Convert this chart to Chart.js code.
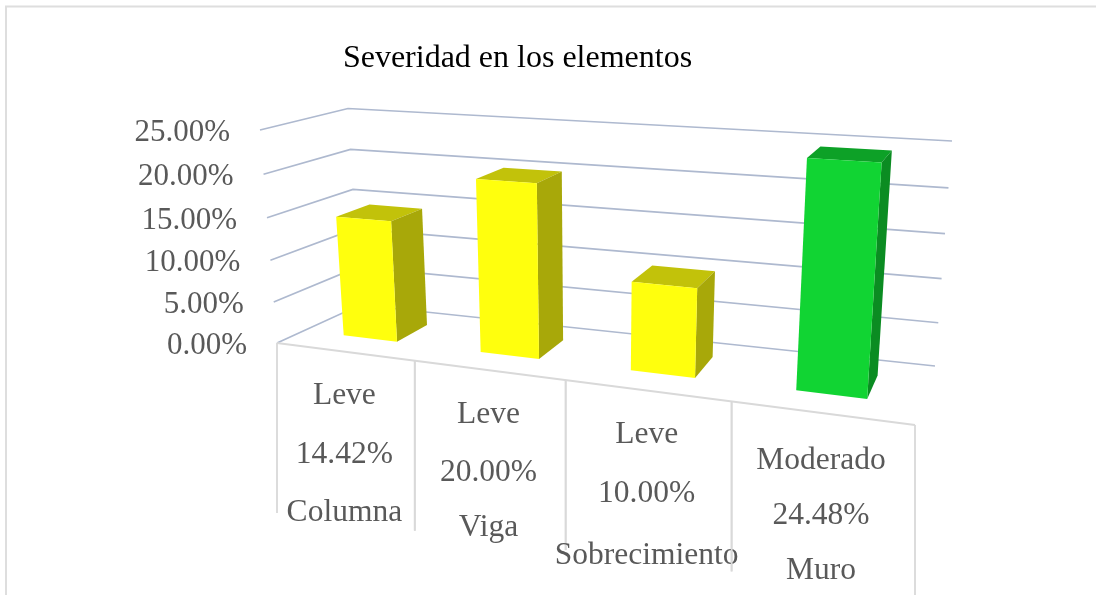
<!DOCTYPE html>
<html>
<head>
<meta charset="utf-8">
<style>html,body{margin:0;padding:0;background:#fff}canvas{display:block}</style>
<script src="https://cdn.jsdelivr.net/npm/chart.js@4"></script>
</head>
<body>
<canvas id="c" width="1097" height="595"></canvas>
<script>
const chartTitle = 'Severidad en los elementos';
const categories = ['Columna', 'Viga', 'Sobrecimiento', 'Muro'];
const severities = ['Leve', 'Leve', 'Leve', 'Moderado'];
const values = [14.42, 20.00, 10.00, 24.48];
const barColors = ['#FFFF0D', '#FFFF0D', '#FFFF0D', '#11D433'];
const valueMax = 25;
const valueStep = 5;

const SERIF = '"Liberation Serif", "Times New Roman", serif';
const TEXT = '#595959', GRID = '#AEB9CF', FLOOR = '#D9D9D9', FRAME = '#DEDEDE';

// View of the 3D box: corners of the plot volume on the page.
const view = {
  fbl: [277, 343], fbr: [915, 425], bbl: [360, 305], bbr: [935, 366],
  ftl: [260, 130], ftr: [933, 170], btl: [348, 108.5], btr: [952, 141],
  ku: 1.21, kv: 1.05, kw: 0.87
};
const labelDrops = [[52, 111, 169], [53, 111, 166], [52, 111, 173], [56, 111, 166]];

const warp = (t, k) => t / (t + k * (1 - t));
const mix = (a, b, t) => [a[0] + (b[0] - a[0]) * t, a[1] + (b[1] - a[1]) * t];
function project(u, v, w) {
  const U = warp(u, view.ku), V = warp(v, view.kv), W = warp(w, view.kw);
  const bottom = mix(mix(view.fbl, view.fbr, U), mix(view.bbl, view.bbr, U), W);
  const top = mix(mix(view.ftl, view.ftr, U), mix(view.btl, view.btr, U), W);
  return mix(bottom, top, V);
}
function shade(hex, f) {
  const n = parseInt(hex.slice(1), 16);
  const c = [n >> 16, (n >> 8) & 255, n & 255].map(x => Math.round(x * f));
  return 'rgb(' + c.join(',') + ')';
}
function poly(ctx, pts, fill) {
  ctx.beginPath();
  pts.forEach((p, i) => i ? ctx.lineTo(p[0], p[1]) : ctx.moveTo(p[0], p[1]));
  ctx.closePath();
  ctx.fillStyle = fill;
  ctx.fill();
}
function line(ctx, pts, color, width) {
  ctx.beginPath();
  pts.forEach((p, i) => i ? ctx.lineTo(p[0], p[1]) : ctx.moveTo(p[0], p[1]));
  ctx.strokeStyle = color;
  ctx.lineWidth = width;
  ctx.stroke();
}

const box3d = {
  id: 'box3d',
  beforeDraw(chart) {
    const ctx = chart.ctx;
    ctx.save();
    ctx.fillStyle = '#fff';
    ctx.fillRect(0, 0, chart.width, chart.height);
    line(ctx, [[6, 595], [6, 6.5], [1096, 6.5]], FRAME, 2);
    ctx.restore();
  },
  beforeDatasetsDraw(chart) {
    const ctx = chart.ctx, y = chart.scales.y, a = chart.chartArea;
    ctx.save();
    y.ticks.forEach(t => {
      const v = (a.bottom - y.getPixelForValue(t.value)) / a.height;
      line(ctx, [project(0, v, 0), project(0, v, 1), project(1, v, 1)], GRID, 1.7);
      const p = project(0, v, 0);
      ctx.font = '31px ' + SERIF;
      ctx.fillStyle = TEXT;
      ctx.textAlign = 'right';
      ctx.textBaseline = 'middle';
      ctx.fillText(t.value.toFixed(2) + '%', p[0] - 30, p[1] + 3);
    });
    line(ctx, [project(0, 0, 0), project(1, 0, 0)], FLOOR, 1.8);
    categories.forEach((name, i) => {
      const n = categories.length;
      [i, i + 1].forEach(k => {
        const p = project(k / n, 0, 0);
        line(ctx, [p, [p[0], p[1] + 170]], FLOOR, 1.8);
      });
      const c = project((i + 0.5) / n, 0, 0);
      ctx.font = '31.5px ' + SERIF;
      ctx.fillStyle = TEXT;
      ctx.textAlign = 'center';
      ctx.textBaseline = 'alphabetic';
      [severities[i], values[i].toFixed(2) + '%', name].forEach((s, j) => {
        ctx.fillText(s, c[0], c[1] + labelDrops[i][j]);
      });
    });
    ctx.restore();
  },
  beforeDatasetDraw(chart, args) {
    const ctx = chart.ctx, a = chart.chartArea;
    const meta = args.meta, colors = meta.controller.getDataset().backgroundColor;
    ctx.save();
    meta.data.forEach((el, i) => {
      const u0 = (el.x - el.width / 2 - a.left) / a.width + 0.001;
      const u1 = (el.x + el.width / 2 - a.left) / a.width + 0.001;
      const v = (el.base - el.y) / a.height;
      const w0 = 0.3, w1 = 0.71;
      const col = colors[i];
      poly(ctx, [project(u0, v, w0), project(u1, v, w0), project(u1, v, w1), project(u0, v, w1)], shade(col, 0.76));
      poly(ctx, [project(u1, 0, w0), project(u1, 0, w1), project(u1, v, w1), project(u1, v, w0)], shade(col, 0.66));
      poly(ctx, [project(u0, 0, w0), project(u1, 0, w0), project(u1, v, w0), project(u0, v, w0)], col);
    });
    ctx.restore();
    return false;
  }
};

new Chart(document.getElementById('c'), {
  type: 'bar',
  plugins: [box3d],
  data: {
    labels: categories,
    datasets: [{
      label: chartTitle,
      data: values,
      backgroundColor: barColors,
      barPercentage: 0.4,
      categoryPercentage: 1
    }]
  },
  options: {
    responsive: false,
    animation: false,
    layout: { padding: { left: 120, right: 182, top: 0, bottom: 251 } },
    plugins: {
      legend: { display: false },
      tooltip: { enabled: false },
      title: {
        display: true,
        text: chartTitle,
        color: '#000',
        font: { family: SERIF, size: 32, weight: 'normal', lineHeight: 1.2 },
        padding: { top: 39, bottom: 10 }
      }
    },
    scales: {
      x: { display: false },
      y: {
        min: 0,
        max: valueMax,
        ticks: { stepSize: valueStep, display: false },
        grid: { display: false },
        border: { display: false }
      }
    }
  }
});
</script>
</body>
</html>
